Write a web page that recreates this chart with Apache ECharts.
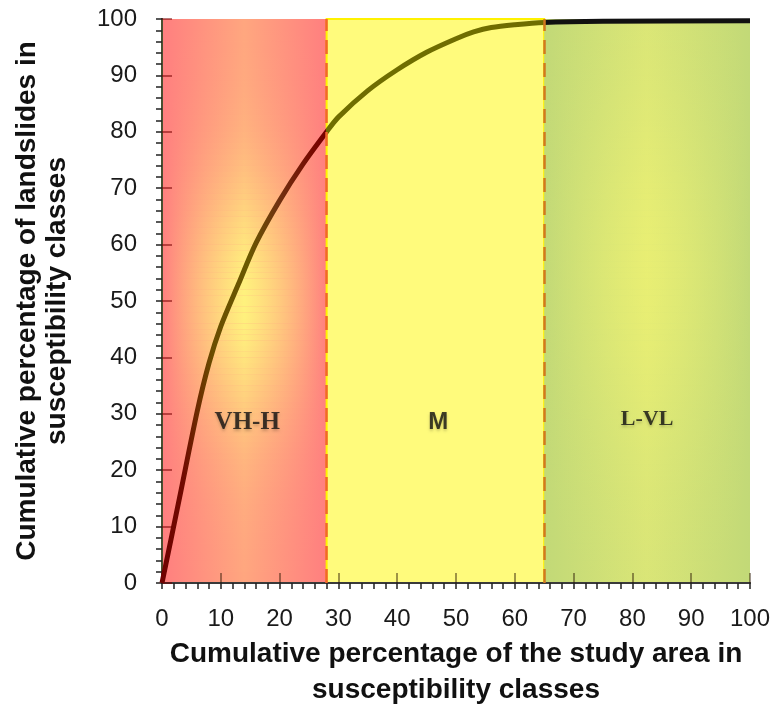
<!doctype html>
<html lang="en">
<head>
    <meta charset="UTF-8">
    <title>Success rate curve</title>
    <style>
        * {
            margin: 0;
            padding: 0;
        }

        body {
            background: #ffffff;
        }

        #chart {
            width: 779px;
            height: 705px;
        }
    </style>
</head>
<body>
<div id="chart"></div>
<script src="https://cdn.jsdelivr.net/npm/echarts@6/dist/echarts.min.js"></script>
<script type="application/javascript">
    // cumulative % of study area (x) vs cumulative % of landslides (y)
    const areaPct = [0, 3, 6, 8, 10, 13, 16, 20, 24, 28, 30, 35, 40, 45, 50, 53, 56, 60, 65, 75, 100];
    const slidePct = [0, 15.2, 30.5, 39, 45.5, 53, 60.3, 67.8, 74.3, 80, 82.6, 87.3, 91, 94.1, 96.5, 97.7, 98.5, 99, 99.4, 99.6, 99.7];

    // susceptibility classes
    const classBreaks = [0, 28, 65, 100];
    const classNames = ['VH-H', 'M', 'L-VL'];
    const classLabelX = [14.5, 47, 82.5];
    const classLabelY = [28.5, 28.5, 29];

    const axisTicks = [0, 10, 20, 30, 40, 50, 60, 70, 80, 90, 100];

    const hgrad = function (edge, center) {
        return {
            type: 'linear', x: 0, y: 0, x2: 1, y2: 0,
            colorStops: [
                {offset: 0, color: edge},
                {offset: 0.5, color: center},
                {offset: 1, color: edge}
            ]
        };
    };

    // soft glow in the middle of a class: stacked thin bands
    const glowBands = function (x0, x1, rgb, peak, yc, sigma) {
        const out = [];
        for (let y = 0; y < 100; y += 1) {
            const d = (y + 0.5 - yc) / sigma;
            const a = peak * Math.exp(-d * d / 2);
            if (a < 0.01) continue;
            out.push([
                {xAxis: x0, yAxis: y, itemStyle: {color: hgrad('rgba(' + rgb + ',0)', 'rgba(' + rgb + ',' + a.toFixed(3) + ')')}},
                {xAxis: x1, yAxis: y + 1}
            ]);
        }
        return out;
    };

    const areas = [
        [{xAxis: classBreaks[0], yAxis: 0, itemStyle: {color: hgrad('#FF7F7F', '#FFA67F')}}, {xAxis: classBreaks[1], yAxis: 100}],
        [{xAxis: classBreaks[1], yAxis: 0, itemStyle: {color: '#FFFB7C', borderColor: '#FFF200', borderWidth: 2}}, {xAxis: classBreaks[2], yAxis: 100}],
        [{xAxis: classBreaks[2], yAxis: 0, itemStyle: {color: hgrad('#C2D977', '#D9E577')}}, {xAxis: classBreaks[3], yAxis: 100}]
    ].concat(
        glowBands(classBreaks[0], classBreaks[1], '255,246,125', 0.95, 50, 16),
        glowBands(classBreaks[2], classBreaks[3], '245,246,112', 0.55, 55, 22)
    );

    const labelStyles = [
        {fontFamily: 'Liberation Serif', fontWeight: 'bold', fontSize: 25},
        {fontFamily: 'Liberation Sans', fontWeight: 'bold', fontSize: 24},
        {fontFamily: 'Liberation Serif', fontWeight: 'bold', fontSize: 22}
    ];
    const labelData = classNames.map(function (name, i) {
        return {
            value: [classLabelX[i], classLabelY[i]],
            label: Object.assign({
                show: true,
                formatter: name,
                color: '#111',
                textShadowColor: 'rgba(0,0,0,0.25)',
                textShadowBlur: 3,
                textShadowOffsetY: 2
            }, labelStyles[i])
        };
    });

    const baseAxis = {
        type: 'value',
        min: 0,
        max: 100,
        interval: 10,
        splitLine: {show: false}
    };

    const tickFont = {fontFamily: 'Liberation Sans', fontSize: 24, color: '#1a1a1a'};
    const nameFont = {fontFamily: 'Liberation Sans', fontWeight: 'bold', fontSize: 28, color: '#111'};

    const chart = echarts.init(document.getElementById('chart'));
    chart.setOption({
        animation: false,
        backgroundColor: '#ffffff',
        grid: {left: 162, right: 29, top: 19, bottom: 122, containLabel: false, outerBoundsMode: 'none'},
        xAxis: [
            Object.assign({}, baseAxis, {
                position: 'bottom',
                z: 3,
                axisLine: {lineStyle: {color: '#3a3a3a', width: 2}},
                axisTick: {show: true, length: 6, lineStyle: {color: '#222', width: 1.5}},
                minorTick: {show: true, splitNumber: 5, length: 6, lineStyle: {color: '#222', width: 1.5}},
                axisLabel: Object.assign({margin: 24, formatter: function (v) {
                    return axisTicks.indexOf(v) >= 0 ? String(v) : '';
                }}, tickFont),
                name: 'Cumulative percentage of the study area in\nsusceptibility classes',
                nameLocation: 'middle',
                nameGap: 51,
                nameTextStyle: Object.assign({lineHeight: 36}, nameFont)
            }),
            Object.assign({}, baseAxis, {
                position: 'bottom',
                z: 3,
                axisLine: {show: false},
                axisTick: {show: true, inside: true, length: 10, lineStyle: {color: 'rgba(40,20,0,0.6)', width: 1.5}},
                axisLabel: {show: false}
            }),
            Object.assign({}, baseAxis, {
                position: 'top',
                axisLine: {lineStyle: {color: '#333', width: 1.5}},
                axisTick: {show: false},
                axisLabel: {show: false}
            })
        ],
        yAxis: [
            Object.assign({}, baseAxis, {
                position: 'left',
                z: 3,
                axisLine: {lineStyle: {color: '#3a3a3a', width: 2}},
                axisTick: {show: true, length: 6, lineStyle: {color: '#222', width: 1.5}},
                minorTick: {show: true, splitNumber: 5, length: 6, lineStyle: {color: '#222', width: 1.5}},
                axisLabel: Object.assign({margin: 25}, tickFont),
                name: 'Cumulative percentage of landslides in\nsusceptibility classes',
                nameLocation: 'middle',
                nameGap: 90,
                nameTextStyle: Object.assign({lineHeight: 30}, nameFont)
            }),
            Object.assign({}, baseAxis, {
                position: 'left',
                z: 3,
                axisLine: {show: false},
                axisTick: {show: true, inside: true, length: 10, lineStyle: {color: 'rgba(120,0,0,0.7)', width: 1.5}},
                axisLabel: {show: false}
            }),
            Object.assign({}, baseAxis, {
                position: 'right',
                z: 3,
                axisLine: {lineStyle: {color: '#4a5030', width: 2}},
                axisTick: {show: false},
                axisLabel: {show: false}
            })
        ],
        series: [
            {
                name: 'classes',
                type: 'line',
                data: [],
                xAxisIndex: 0,
                yAxisIndex: 0,
                silent: true,
                markArea: {
                    silent: true,
                    data: areas
                },
                markLine: {
                    silent: true,
                    symbol: 'none',
                    label: {show: false},
                    lineStyle: {type: [14, 9], width: 2.5},
                    data: [
                        {xAxis: classBreaks[1], lineStyle: {color: '#F2662A'}},
                        {xAxis: classBreaks[2], lineStyle: {color: '#D2781E'}}
                    ]
                }
            },
            {
                name: 'success rate',
                type: 'line',
                z: 4,
                smooth: 0.3,
                showSymbol: false,
                data: areaPct.map(function (x, i) {
                    return [x, slidePct[i]];
                }),
                lineStyle: {
                    width: 5,
                    color: {
                        type: 'linear', x: 0, y: 0, x2: 1, y2: 0,
                        colorStops: [
                            {offset: 0, color: '#700000'},
                            {offset: 0.04, color: '#700a00'},
                            {offset: 0.09, color: '#6a4e00'},
                            {offset: 0.15, color: '#6a5800'},
                            {offset: 0.2, color: '#703210'},
                            {offset: 0.26, color: '#780800'},
                            {offset: 0.28, color: '#780000'},
                            {offset: 0.281, color: '#6f6d00'},
                            {offset: 0.648, color: '#6f6d00'},
                            {offset: 0.652, color: '#111111'},
                            {offset: 1, color: '#111111'}
                        ]
                    }
                }
            },
            {
                name: 'class labels',
                type: 'scatter',
                z: 5,
                symbolSize: 0,
                silent: true,
                data: labelData,
                label: {position: 'inside'}
            }
        ]
    });
</script>
</body>
</html>
